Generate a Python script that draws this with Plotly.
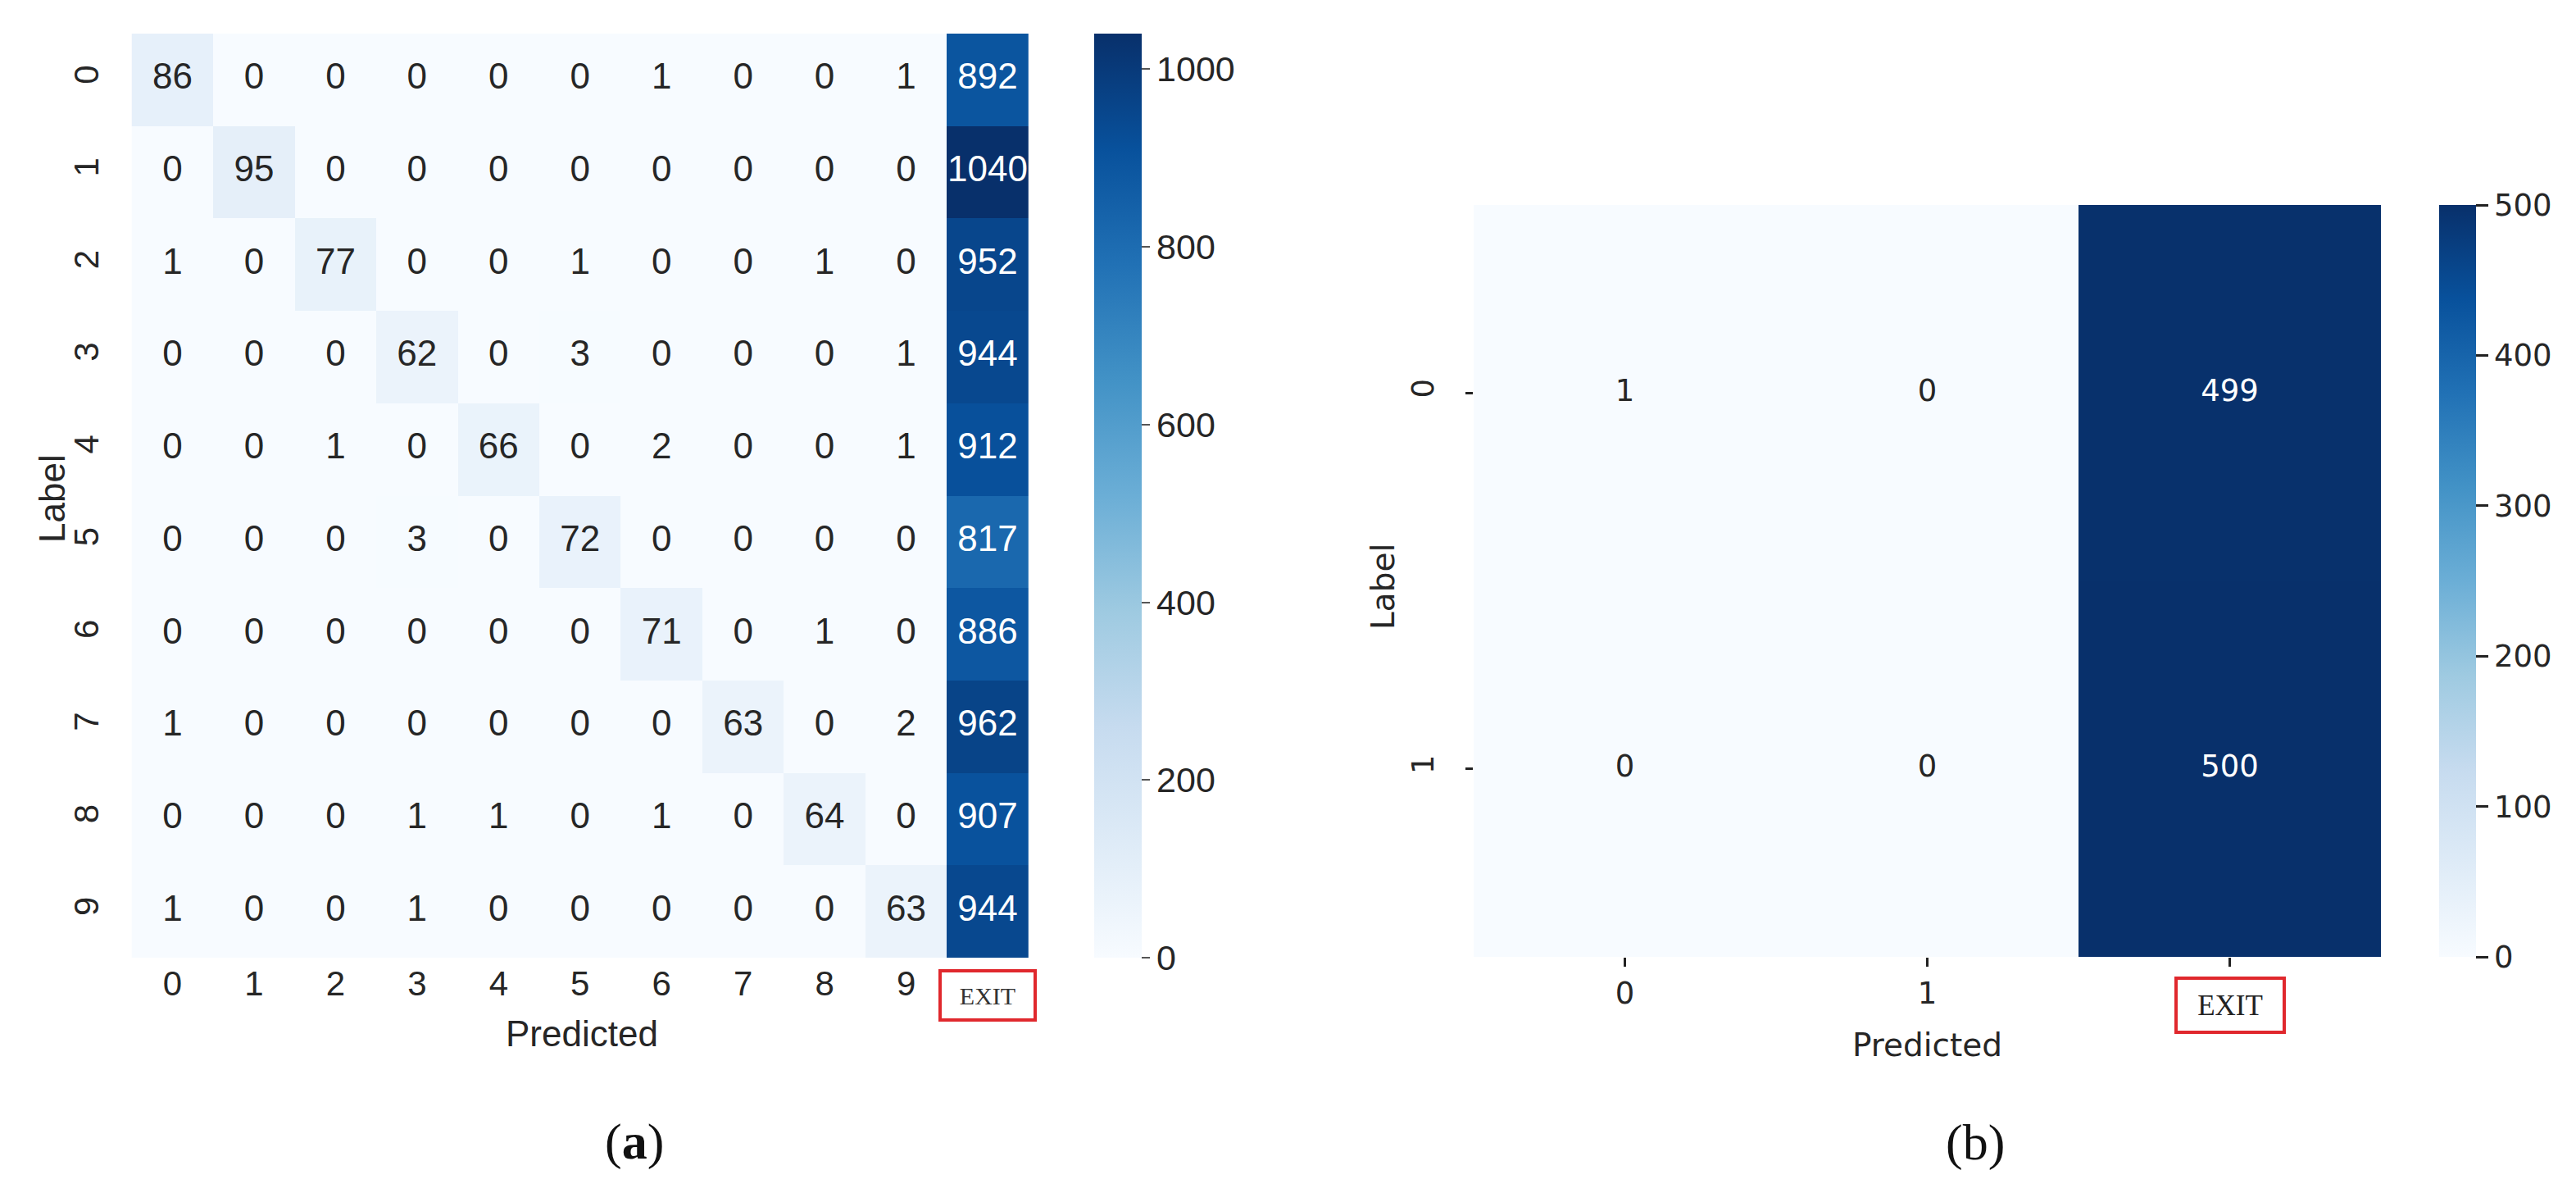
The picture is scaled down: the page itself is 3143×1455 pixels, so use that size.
import plotly.graph_objects as go

# ---------------- data ----------------
pred_a = ["0", "1", "2", "3", "4", "5", "6", "7", "8", "9", "EXIT"]
label_a = ["0", "1", "2", "3", "4", "5", "6", "7", "8", "9"]
row_a0 = [86, 0, 0, 0, 0, 0, 1, 0, 0, 1, 892]
row_a1 = [0, 95, 0, 0, 0, 0, 0, 0, 0, 0, 1040]
row_a2 = [1, 0, 77, 0, 0, 1, 0, 0, 1, 0, 952]
row_a3 = [0, 0, 0, 62, 0, 3, 0, 0, 0, 1, 944]
row_a4 = [0, 0, 1, 0, 66, 0, 2, 0, 0, 1, 912]
row_a5 = [0, 0, 0, 3, 0, 72, 0, 0, 0, 0, 817]
row_a6 = [0, 0, 0, 0, 0, 0, 71, 0, 1, 0, 886]
row_a7 = [1, 0, 0, 0, 0, 0, 0, 63, 0, 2, 962]
row_a8 = [0, 0, 0, 1, 1, 0, 1, 0, 64, 0, 907]
row_a9 = [1, 0, 0, 1, 0, 0, 0, 0, 0, 63, 944]
matrix_a = [row_a0, row_a1, row_a2, row_a3, row_a4, row_a5, row_a6, row_a7, row_a8, row_a9]
ticks_a = [0, 200, 400, 600, 800, 1000]

pred_b = ["0", "1", "EXIT"]
label_b = ["0", "1"]
row_b0 = [1, 0, 499]
row_b1 = [0, 0, 500]
matrix_b = [row_b0, row_b1]
ticks_b = [0, 100, 200, 300, 400, 500]

# ---------------- styling ----------------
W, H = 3143, 1455
BLUES = [[0.0, "#f7fbff"], [0.125, "#deebf7"], [0.25, "#c6dbef"], [0.375, "#9ecae1"],
         [0.5, "#6baed6"], [0.625, "#4292c6"], [0.75, "#2171b5"], [0.875, "#08519c"],
         [1.0, "#08306b"]]
FA = "Liberation Sans, Arial, sans-serif"
FB = "DejaVu Sans, sans-serif"
SERIF = "Liberation Serif, Times New Roman, serif"
DARK = "#262626"
RED = "#e0282d"


def px(x):
    return x / W


def py(y):
    return 1 - y / H


# panel pixel geometry
ax_a = (147, 1257, 33, 1160)
ax_b = (1790, 2897, 242, 1159)

fig = go.Figure()

zmax_a = max(max(r) for r in matrix_a)
zmax_b = 500

fig.add_trace(go.Heatmap(
    z=matrix_a, x=pred_a, y=label_a, xaxis="x", yaxis="y",
    colorscale=BLUES, zmin=0, zmax=zmax_a, hoverinfo="skip",
    colorbar=dict(
        x=px(1327), xanchor="left", xpad=0, y=py(33), yanchor="top", ypad=0,
        len=(1160 - 33) / H, lenmode="fraction", thickness=58, thicknessmode="pixels",
        outlinewidth=0, tickvals=ticks_a, ticks="outside", ticklen=10, tickwidth=2,
        tickcolor="#555", tickfont=dict(family=FA, size=43, color=DARK),
    ),
))

fig.add_trace(go.Heatmap(
    z=matrix_b, x=pred_b, y=label_b, xaxis="x2", yaxis="y2",
    colorscale=BLUES, zmin=0, zmax=zmax_b, hoverinfo="skip",
    colorbar=dict(
        x=px(2968), xanchor="left", xpad=0, y=py(242), yanchor="top", ypad=0,
        len=(1159 - 242) / H, lenmode="fraction", thickness=45, thicknessmode="pixels",
        outlinewidth=0, tickvals=ticks_b, ticks="outside", ticklen=15, tickwidth=3,
        tickcolor="#222", tickfont=dict(family=FB, size=37, color=DARK),
    ),
))


# cell value labels
def text_trace(matrix, xs, ys, zmax, xa, ya, family, size):
    tx, ty, tt, tc = [], [], [], []
    for i, row in enumerate(matrix):
        for j, v in enumerate(row):
            tx.append(xs[j])
            ty.append(ys[i])
            tt.append(str(v))
            tc.append("#ffffff" if v > zmax * 0.5 else DARK)
    return go.Scatter(x=tx, y=ty, text=tt, mode="text", xaxis=xa, yaxis=ya,
                      textfont=dict(family=family, size=size, color=tc),
                      hoverinfo="skip", showlegend=False)


fig.add_trace(text_trace(matrix_a, pred_a, label_a, zmax_a, "x", "y", FA, 44))
fig.add_trace(text_trace(matrix_b, pred_b, label_b, zmax_b, "x2", "y2", FB, 37))

tick_a_text = [c if c != "EXIT" else "" for c in pred_a]
tick_b_text = [c if c != "EXIT" else "" for c in pred_b]

fig.update_layout(
    width=W, height=H, autosize=False,
    margin=dict(l=0, r=0, t=0, b=0, pad=0),
    paper_bgcolor="white", plot_bgcolor="white",
    showlegend=False,
    xaxis=dict(domain=[px(ax_a[0]), px(ax_a[1])], anchor="y", type="category",
               tickvals=pred_a, ticktext=tick_a_text, ticks="", showgrid=False,
               zeroline=False, showline=False, ticklabelstandoff=3,
               tickfont=dict(family=FA, size=42, color=DARK)),
    yaxis=dict(domain=[py(ax_a[3]), py(ax_a[2])], anchor="x", type="category",
               autorange="reversed", ticks="", showgrid=False, zeroline=False,
               showline=False, tickangle=-90, ticklabelstandoff=26,
               tickfont=dict(family=FA, size=42, color=DARK)),
    xaxis2=dict(domain=[px(ax_b[0]), px(ax_b[1])], anchor="y2", type="category",
                tickvals=pred_b, ticktext=tick_b_text, ticks="outside", ticklen=11,
                tickwidth=3, tickcolor="#222", showgrid=False, zeroline=False,
                showline=False, ticklabelstandoff=1,
                tickfont=dict(family=FB, size=37, color=DARK)),
    yaxis2=dict(domain=[py(ax_b[3]), py(ax_b[2])], anchor="x2", type="category",
                autorange="reversed", ticks="outside", ticklen=9, tickwidth=3,
                tickcolor="#222", showgrid=False, zeroline=False, showline=False,
                tickangle=-90, ticklabelstandoff=24,
                tickfont=dict(family=FB, size=37, color=DARK)),
)

C = dict(xanchor="center", yanchor="middle", showarrow=False)
annotations = [
    dict(text="Predicted", x=px(702), y=py(1252), xref="paper", yref="paper",
         font=dict(family=FA, size=44, color=DARK), **C),
    dict(text="Label", x=px(55), y=py(600), xref="paper", yref="paper", textangle=-90,
         font=dict(family=FA, size=44, color=DARK), **C),
    dict(text="Predicted", x=px(2343), y=py(1266), xref="paper", yref="paper",
         font=dict(family=FB, size=39, color=DARK), **C),
    dict(text="Label", x=px(1679), y=py(708), xref="paper", yref="paper", textangle=-90,
         font=dict(family=FB, size=39, color=DARK), **C),
    dict(text="EXIT", x="EXIT", xref="x", y=py(1206), yref="paper",
         font=dict(family=SERIF, size=30, color="#333"), width=112, height=56,
         bordercolor=RED, borderwidth=4, borderpad=0, bgcolor="white", **C),
    dict(text="EXIT", x="EXIT", xref="x2", y=py(1218), yref="paper",
         font=dict(family=SERIF, size=35, color="#222"), width=128, height=62,
         bordercolor=RED, borderwidth=4, borderpad=0, bgcolor="white", **C),
    dict(text="(<b>a</b>)", x=px(766), y=py(1384), xref="paper", yref="paper",
         font=dict(family=SERIF, size=62, color="#111"), **C),
    dict(text="(b)", x=px(2402), y=py(1385), xref="paper", yref="paper",
         font=dict(family=SERIF, size=62, color="#111"), **C),
]
fig.update_layout(annotations=annotations)

fig.write_html("out.html")
